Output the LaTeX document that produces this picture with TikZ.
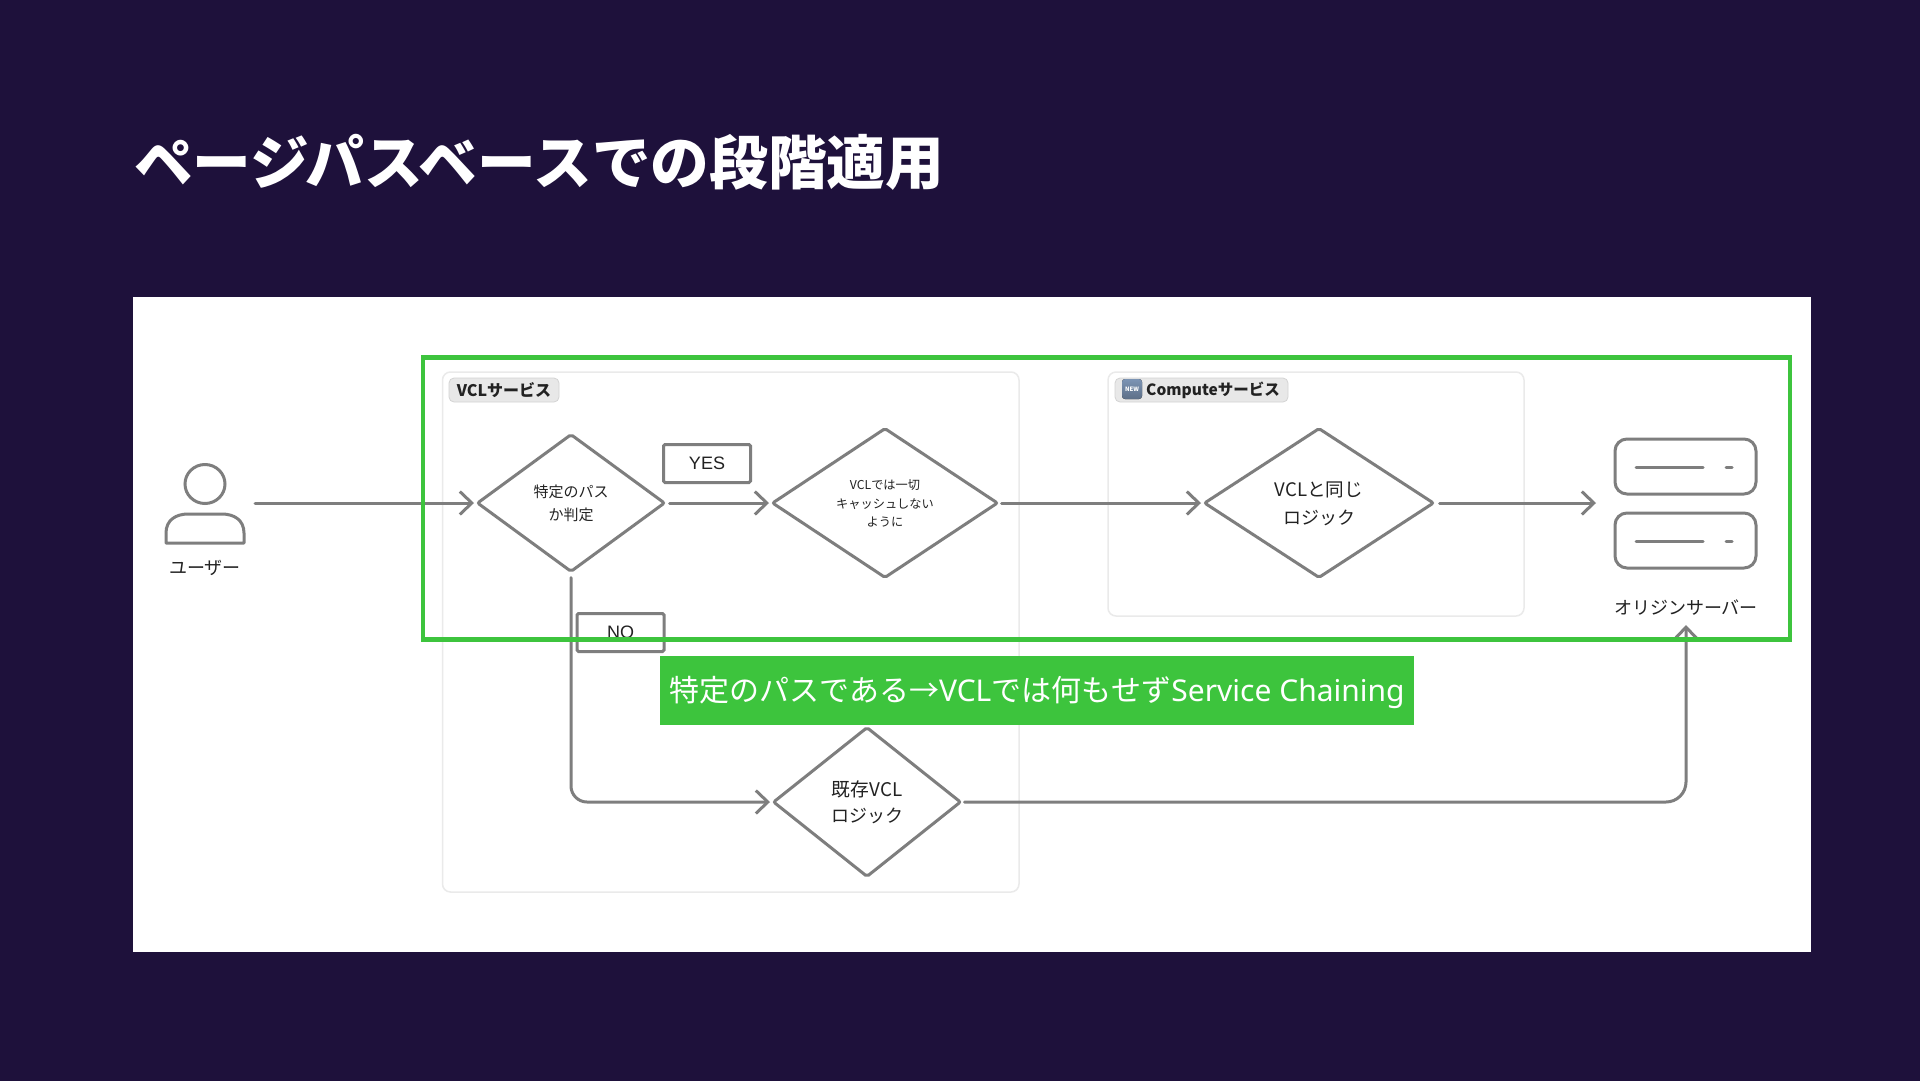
\documentclass[tikz,border=0pt]{standalone}
\usepackage{fontspec}
\setmainfont{Noto Sans CJK JP}
\newfontfamily\latinf{Noto Sans}
\newfontfamily\helvf{Liberation Sans}
\usetikzlibrary{arrows.meta,shapes.geometric}
\definecolor{slidebg}{HTML}{1E113B}
\definecolor{hlgreen}{HTML}{3DC43D}
\definecolor{linegray}{HTML}{7E7E7E}
\definecolor{grpline}{HTML}{EAEAEA}
\definecolor{tagfill}{HTML}{E8E8E8}
\definecolor{inktext}{HTML}{222222}
\definecolor{iconblue}{HTML}{7C94B4}
\newcommand{\fs}[1]{\fontsize{#1}{#1}\selectfont}
\tikzset{
  x=1pt,y=-1pt,
  flowline/.style={draw=linegray,line width=3pt,line cap=round},
  arrowline/.style={flowline,-{Straight Barb[length=12pt,width=23pt,line width=3pt]}},
  decision/.style={shape=diamond,draw=linegray,line width=3pt,fill=white,inner sep=0pt,
    rounded corners=2pt,align=center,text=inktext},
  grp/.style={draw=grpline,line width=1.5pt,rounded corners=8pt,fill=white},
  tagbox/.style={draw=grpline!90!black,line width=.8pt,fill=tagfill,rounded corners=5pt},
  labelbox/.style={draw=linegray,line width=3pt,fill=white,rounded corners=1.5pt,text=inktext,font=\fs{18}\helvf},
  srv/.style={draw=linegray,line width=3pt,fill=white,rounded corners=12pt},
  capt/.style={text=inktext,font=\fs{18},inner sep=0pt},
}
\begin{document}
\begin{tikzpicture}
\useasboundingbox (0,0) rectangle (1920,1080);
\fill[slidebg] (-3,-3) rectangle (1923,1083);
\node[anchor=west,text=white,inner sep=0pt,font=\fs{58.7}\bfseries] (title) at (134,162) {ページパスベースでの段階適用};
\fill[white] (133,297) rectangle (1811,952);

% groups
\draw[grp] (442.5,372) rectangle (1019,892);
\draw[grp] (1108,372) rectangle (1524,616);
\draw[tagbox] (449,378) rectangle (559,402);
\node[inner sep=0pt,font=\fs{16}\bfseries,text=inktext] (vcltag) at (504,390) {VCLサービス};
\draw[tagbox] (1115,378) rectangle (1288,402);
\fill[rounded corners=3pt,top color=iconblue,bottom color=iconblue!75!black] (1122,379) rectangle (1142,399);
\node[inner sep=0pt,font=\fs{6}\bfseries,text=white] (newicon) at (1132,389) {NEW};
\node[inner sep=0pt,anchor=west,font=\fs{15.5}\bfseries,text=inktext] (cmptag) at (1146,390) {Computeサービス};

% person
\draw[flowline] (205,484) ellipse [x radius=20,y radius=19.5];
\draw[flowline,line join=round] (166,543) -- (166,533) .. controls (166,520) and (176,514) .. (188,514) -- (222,514) .. controls (234,514) and (244,520) .. (244,533) -- (244,543) -- cycle;
\coordinate (userout) at (255,503);
\node[capt] (userlabel) at (205,568) {ユーザー};

% decisions
\node[decision,minimum width=188pt,minimum height=138pt] (d1) at (571,503) {};
\node[inner sep=0pt,font=\fs{15},text=inktext] (d1a) at (571,492) {特定のパス};
\node[inner sep=0pt,font=\fs{15},text=inktext] (d1b) at (571,515) {か判定};

\node[decision,minimum width=226pt,minimum height=150pt] (d2) at (885,503) {};
\node[inner sep=0pt,font=\fs{12.2},text=inktext] (d2a) at (885,485) {VCLでは一切};
\node[inner sep=0pt,font=\fs{12.2},text=inktext] (d2b) at (885,504) {キャッシュしない};
\node[inner sep=0pt,font=\fs{12.2},text=inktext] (d2c) at (885,522) {ように};

\node[decision,minimum width=230pt,minimum height=150pt] (d3) at (1319,503) {};
\node[inner sep=0pt,font=\fs{18.6},text=inktext] (d3a) at (1319,490) {VCLと同じ};
\node[inner sep=0pt,font=\fs{18},text=inktext] (d3b) at (1319,517.5) {ロジック};

\node[decision,minimum width=188pt,minimum height=150pt] (d4) at (867,802) {};
\node[inner sep=0pt,font=\fs{18.8},text=inktext] (d4a) at (867,789) {既存VCL};
\node[inner sep=0pt,font=\fs{18},text=inktext] (d4b) at (867,816) {ロジック};

% labels
\node[labelbox,minimum width=87pt,minimum height=38pt,inner sep=0pt] (yes) at (707,463.5) {YES};
\node[labelbox,minimum width=87pt,minimum height=38pt,inner sep=0pt] (no) at (620.5,632.5) {NO};

% servers
\draw[srv] (1615,439) rectangle (1756,494);
\draw[srv] (1615,513) rectangle (1756,568);
\draw[flowline] (1636,467) -- (1703,467);
\draw[flowline] (1726,467) -- (1732,467);
\draw[flowline] (1636,541) -- (1703,541);
\draw[flowline] (1726,541) -- (1732,541);
\coordinate (srvin) at (1596,503);
\coordinate (srvbottom) at (1686,625);
\node[capt] (srvlabel) at (1686,608) {オリジンサーバー};

% connectors
\coordinate (d1out) at ([xshift=3pt]d1.east);
\coordinate (d2out) at ([xshift=2pt]d2.east);
\coordinate (d3out) at ([xshift=4pt]d3.east);
\coordinate (d4out) at ([xshift=2pt]d4.east);
\coordinate (d1down) at ([yshift=-4pt]d1.south);
\draw[arrowline] (userout) -- ([xshift=-1.5pt]d1.west);
\draw[arrowline] (d1out) -- ([xshift=-1.5pt]d2.west);
\draw[arrowline] (d2out) -- ([xshift=-1.5pt]d3.west);
\draw[arrowline] (d3out) -- (srvin);
\draw[arrowline,rounded corners=16pt] (d1down) |- ([xshift=-1.5pt]d4.west);
\draw[arrowline,rounded corners=20pt] (d4out) -| (srvbottom);

% highlight
\draw[draw=hlgreen,line width=4.8pt] (423,357.5) rectangle (1790,639.5);
\node[fill=hlgreen,minimum width=754pt,minimum height=69pt,inner sep=0pt] (callout) at (1037,690.5) {};
\node[text=white,inner sep=0pt,font=\fs{30}] (callouttext) at (1037,692.5) {特定のパスである→{\latinf VCL}では何もせず{\latinf Service Chaining}};
\end{tikzpicture}
\end{document}
